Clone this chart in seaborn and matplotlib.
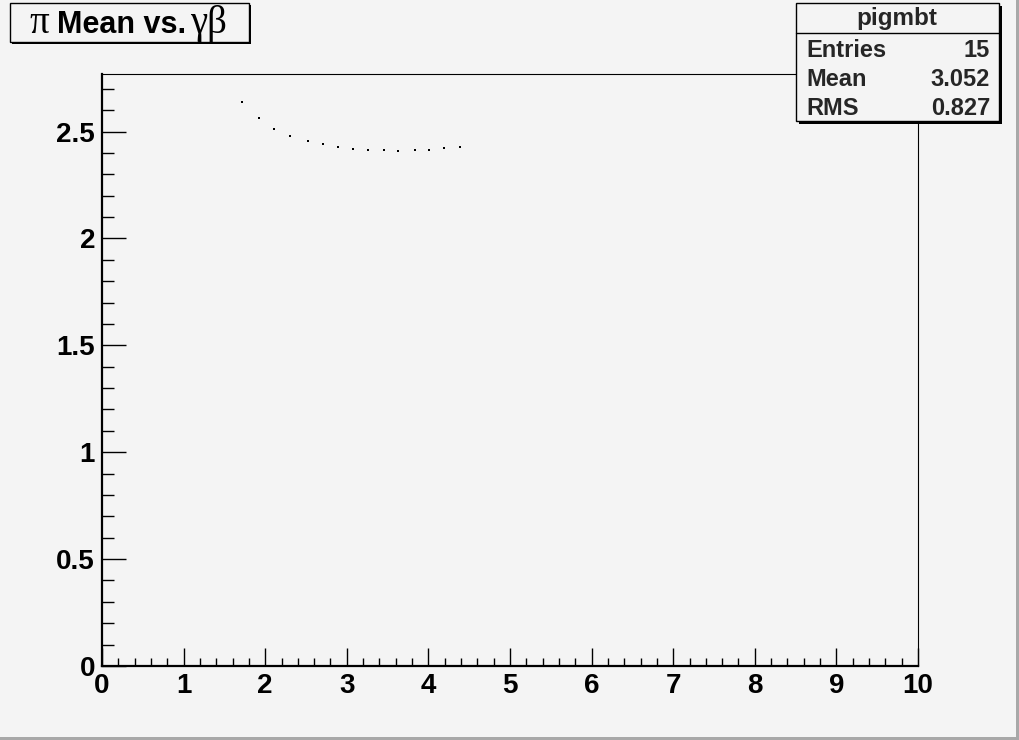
import matplotlib
matplotlib.use("Agg")
import matplotlib.pyplot as plt
import seaborn as sns
import pandas as pd
from matplotlib.patches import Rectangle
from matplotlib.lines import Line2D
from matplotlib.ticker import MultipleLocator

# ---- data ----
gamma_beta = [1.71, 1.92, 2.11, 2.31, 2.52, 2.71, 2.89, 3.08, 3.26, 3.46, 3.63, 3.84, 4.01, 4.19, 4.39]
pi_mean = [2.637, 2.561, 2.514, 2.481, 2.457, 2.441, 2.427, 2.419, 2.414, 2.413, 2.411, 2.413, 2.414, 2.421, 2.427]
x_ticks = [0, 1, 2, 3, 4, 5, 6, 7, 8, 9, 10]
y_ticks = [0, 0.5, 1, 1.5, 2, 2.5]
y_tick_labels = ["0", "0.5", "1", "1.5", "2", "2.5"]
stats_name = "pigmbt"
stats_labels = ["Entries", "Mean", "RMS"]
stats_values = ["15", "3.052", "0.827"]

W, H = 1020, 740
BG = "#f4f4f4"
SANS = "Liberation Sans"
SERIF = "Liberation Serif"

sns.set_theme(style="white")
plt.rcParams["font.family"] = [SANS, "DejaVu Sans"]

df = pd.DataFrame({"gb": gamma_beta, "mean": pi_mean})

fig = plt.figure(figsize=(W / 100, H / 100), dpi=100, facecolor=BG)
ax = fig.add_axes([102 / W, (H - 666) / H, (918 - 102) / W, (666 - 74) / H])
ax.set_facecolor(BG)

sns.scatterplot(data=df, x="gb", y="mean", ax=ax, marker="s", s=3,
                color="black", linewidth=0, legend=False)

ax.set_xlim(0, 10)
ax.set_ylim(0, 2.769)
ax.set_xlabel("")
ax.set_ylabel("")
ax.set_xticks(x_ticks)
ax.set_xticklabels([str(t) for t in x_ticks])
ax.set_yticks(y_ticks)
ax.set_yticklabels(y_tick_labels)
ax.xaxis.set_minor_locator(MultipleLocator(0.2))
ax.yaxis.set_minor_locator(MultipleLocator(0.1))
ax.tick_params(axis="x", which="major", direction="in", length=13, width=1,
               color="black", labelsize=20, pad=5, top=False, bottom=True)
ax.tick_params(axis="x", which="minor", direction="in", length=6, width=1,
               color="black", top=False, bottom=True)
ax.tick_params(axis="y", which="major", direction="in", length=17.5, width=1,
               color="black", labelsize=20, pad=5, left=True, right=False)
ax.tick_params(axis="y", which="minor", direction="in", length=8.7, width=1,
               color="black", left=True, right=False)
for lab in ax.get_xticklabels() + ax.get_yticklabels():
    lab.set_fontweight("bold")
    lab.set_color("black")
for side in ["top", "right"]:
    ax.spines[side].set_linewidth(0.8)
    ax.spines[side].set_color("black")
for side in ["left", "bottom"]:
    ax.spines[side].set_linewidth(1.6)
    ax.spines[side].set_color("black")


def fx(px):
    return px / W


def fy(py):
    return 1 - py / H


def box(x0, y0, x1, y1, shadow=3):
    fig.add_artist(Rectangle((fx(x0 + shadow), fy(y1 + shadow)), fx(x1 - x0), (y1 - y0) / H,
                             transform=fig.transFigure, facecolor="black", edgecolor="none", zorder=5))
    fig.add_artist(Rectangle((fx(x0), fy(y1)), fx(x1 - x0), (y1 - y0) / H,
                             transform=fig.transFigure, facecolor=BG, edgecolor="black",
                             linewidth=1, zorder=6))


# canvas bevel
fig.add_artist(Rectangle((fx(1016), 0), fx(4), 1, transform=fig.transFigure,
                         facecolor="#a8a8a8", edgecolor="none", zorder=1))
fig.add_artist(Rectangle((0, 0), 1, 3 / H, transform=fig.transFigure,
                         facecolor="#a8a8a8", edgecolor="none", zorder=1))

# title box
box(10, 3, 249, 42, shadow=2)
fig.text(fx(29), fy(33), "π", fontsize=28, family=[SERIF], color="black",
         va="baseline", ha="left", zorder=7)
fig.text(fx(57), fy(33), "Mean vs.", fontsize=22, fontweight="bold", family=[SANS],
         color="black", va="baseline", ha="left", zorder=7)
fig.text(fx(190), fy(33), "γβ", fontsize=28, family=[SERIF], color="black",
         va="baseline", ha="left", zorder=7)

# stats box
box(796, 3, 999, 121, shadow=3)
fig.add_artist(Line2D([fx(796), fx(999)], [fy(33), fy(33)], transform=fig.transFigure,
                      color="black", linewidth=1, zorder=7))
fig.text(fx(897), fy(25), stats_name, fontsize=17.5, fontweight="bold", ha="center",
         va="baseline", zorder=7)
for i, (lab, val) in enumerate(zip(stats_labels, stats_values)):
    yb = 57 + i * 29
    fig.text(fx(806), fy(yb), lab, fontsize=17, fontweight="bold", ha="left",
             va="baseline", zorder=7)
    fig.text(fx(990), fy(yb), val, fontsize=17, fontweight="bold", ha="right",
             va="baseline", zorder=7)

fig.savefig("out.png", dpi=100, facecolor=BG)
